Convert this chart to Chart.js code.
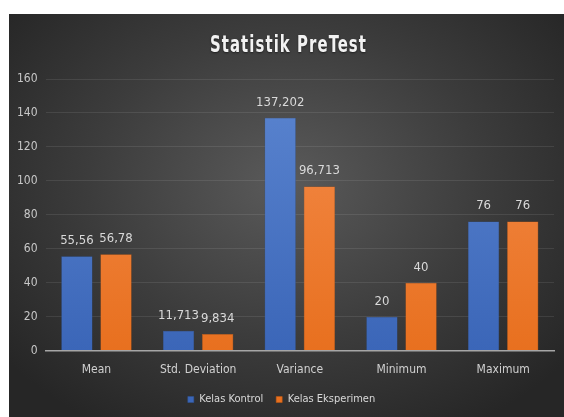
<!DOCTYPE html>
<html>
<head>
<meta charset="utf-8">
<script src="https://cdn.jsdelivr.net/npm/chart.js@4"></script>
<style>
  html, body { margin: 0; padding: 0; background: #fff; }
  #box {
    position: absolute; left: 9px; top: 14px; width: 555px; height: 403px;
    background: radial-gradient(ellipse 65% 70% at 50% 42%, #5a5a5a 0%, #3c3c3c 55%, #262626 100%);
  }
</style>
</head>
<body>
<div id="box"><canvas id="myChart" width="555" height="403"></canvas></div>
<script>
const categories = ['Mean', 'Std. Deviation', 'Variance', 'Minimum', 'Maximum'];
const kontrol = [55.56, 11.713, 137.202, 20, 76];
const eksperimen = [56.78, 9.834, 96.713, 40, 76];
const yTicks = [0, 20, 40, 60, 80, 100, 120, 140, 160];
const titleText = 'Statistik PreTest';

const FONT = "'DejaVu Sans Condensed', 'Liberation Sans Narrow', 'Noto Sans', sans-serif";

function fmt(v) {
    return String(v).replace('.', ',');
}

// draws the value above each bar
const barLabels = {
    id: 'barLabels',
    afterDatasetsDraw(chart) {
        const ctx = chart.ctx;
        ctx.save();
        ctx.fillStyle = '#d9d9d9';
        ctx.font = '13px ' + FONT;
        ctx.textAlign = 'center';
        ctx.textBaseline = 'bottom';
        chart.data.datasets.forEach((ds, i) => {
            chart.getDatasetMeta(i).data.forEach((bar, j) => {
                ctx.fillText(fmt(ds.data[j]), bar.x, bar.y - 9);
            });
        });
        ctx.restore();
    }
};

// title drawn by hand so it can be squeezed like the original
const bigTitle = {
    id: 'bigTitle',
    afterDraw(chart) {
        const ctx = chart.ctx;
        ctx.save();
        ctx.font = 'bold 23px ' + FONT;
        ctx.letterSpacing = '1.5px';
        const w = ctx.measureText(titleText).width;
        const target = 157;
        ctx.translate(chart.width / 2 + 2, 38);
        ctx.scale(target / w, 1);
        ctx.fillStyle = '#f2f2f2';
        ctx.shadowColor = 'rgba(0,0,0,0.5)';
        ctx.shadowBlur = 2;
        ctx.shadowOffsetY = 1;
        ctx.textAlign = 'center';
        ctx.textBaseline = 'alphabetic';
        ctx.fillText(titleText, 0, 0);
        ctx.restore();
    }
};

function shade(top, bottom) {
    return function(context) {
        const area = context.chart.chartArea;
        if (!area) return bottom;
        const g = context.chart.ctx.createLinearGradient(0, area.top, 0, area.bottom);
        g.addColorStop(0, top);
        g.addColorStop(1, bottom);
        return g;
    };
}

const ctx = document.getElementById('myChart').getContext('2d');
const myChart = new Chart(ctx, {
    type: 'bar',
    data: {
        labels: categories,
        datasets: [{
            label: 'Kelas Kontrol',
            data: kontrol,
            backgroundColor: shade('#5b85d0', '#3b66b8'),
            borderColor: '#2f5597',
            borderWidth: 0.5
        }, {
            label: 'Kelas Eksperimen',
            data: eksperimen,
            backgroundColor: shade('#f48c4c', '#e8701f'),
            borderColor: '#c55a11',
            borderWidth: 0.5
        }]
    },
    options: {
        responsive: false,
        animation: false,
        categoryPercentage: 0.77,
        barPercentage: 0.8,
        layout: { padding: { left: 0, right: 10, top: 65, bottom: 2 } },
        scales: {
            x: {
                grid: { display: false },
                border: { color: '#a6a6a6', width: 1.5 },
                ticks: { color: '#d0d0d0', font: { family: FONT, size: 12 }, padding: 4 }
            },
            y: {
                min: 0,
                max: 160,
                afterBuildTicks(axis) {
                    axis.ticks = yTicks.map(v => ({ value: v }));
                },
                grid: { color: 'rgba(255,255,255,0.09)', drawTicks: false },
                border: { display: false },
                ticks: { color: '#c8c8c8', font: { family: FONT, size: 12 }, padding: 8 }
            }
        },
        plugins: {
            title: { display: false },
            legend: {
                position: 'bottom',
                labels: {
                    color: '#d9d9d9',
                    font: { family: FONT, size: 11 },
                    boxWidth: 6,
                    boxHeight: 6,
                    padding: 13
                }
            },
            tooltip: { enabled: false }
        }
    },
    plugins: [barLabels, bigTitle]
});
</script>
</body>
</html>
